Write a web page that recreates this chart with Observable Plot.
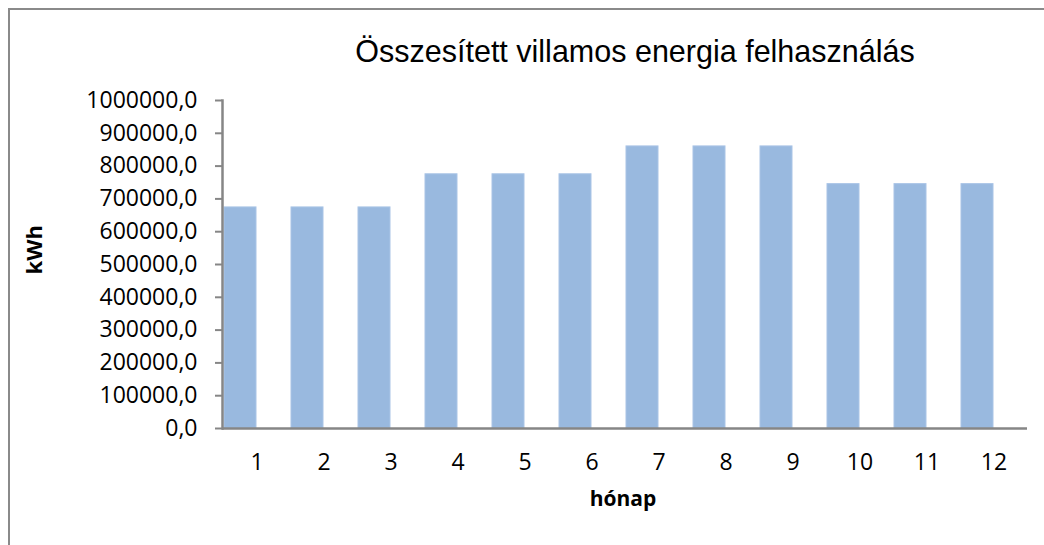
<!DOCTYPE html>
<html>
<head>
<meta charset="utf-8">
<script src="https://cdn.jsdelivr.net/npm/d3@7"></script>
<script src="https://cdn.jsdelivr.net/npm/@observablehq/plot@0.6"></script>
<style>
  html, body { margin: 0; padding: 0; background: #fff; }
  #wrap { position: relative; width: 1044px; height: 545px; overflow: hidden; }
  #border { position: absolute; left: 8px; top: 8px; width: 1100px; height: 600px;
            border-left: 2px solid #8a8a8a; border-top: 2px solid #8a8a8a; box-sizing: border-box; }
  #chart { position: absolute; left: 0; top: 0; }
</style>
</head>
<body>
<div id="wrap"><div id="border"></div><div id="chart"></div></div>
<script>
const months = [1, 2, 3, 4, 5, 6, 7, 8, 9, 10, 11, 12];
const consumption = [674000, 674000, 674000, 775000, 775000, 775000, 860000, 860000, 860000, 745000, 745000, 745000];
const yTicks = [0, 100000, 200000, 300000, 400000, 500000, 600000, 700000, 800000, 900000, 1000000];
const title = "Összesített villamos energia felhasználás";
const yLabel = "kWh";
const xLabel = "hónap";

const data = months.map((m, i) => ({month: m, value: consumption[i]}));
const axisColor = "#868686";

const chart = Plot.plot({
  width: 1044,
  height: 545,
  marginLeft: 222,
  marginRight: 17,
  marginTop: 100,
  marginBottom: 117,
  style: {fontFamily: "'Open Sans', sans-serif", background: "transparent", overflow: "visible"},
  x: {type: "band", domain: months, padding: 0},
  y: {domain: [0, 1000000]},
  marks: [
    Plot.barY(data, {x: "month", y: "value", fill: "#99B9DF", stroke: "#A9C4E6", strokeWidth: 1, insetLeft: 1, insetRight: 34}),
    Plot.axisY({ticks: yTicks, tickFormat: d => d.toFixed(1).replace(".", ","), tickSize: 7, tickPadding: 18,
                stroke: axisColor, strokeWidth: 2, strokeOpacity: 1, fontSize: 23, fill: "#000", label: null}),
    Plot.axisX({tickSize: 0, tickPadding: 25, fontSize: 23, fill: "#000", label: null}),
    Plot.ruleY([0], {stroke: axisColor, strokeWidth: 2.5}),
    Plot.frame({anchor: "left", stroke: axisColor, strokeWidth: 2.5}),
    Plot.text([title], {frameAnchor: "top", dx: 10, dy: -60, fontSize: 30.5, fill: "#000",
                        fontFamily: "'Liberation Sans', Arial, sans-serif"}),
    Plot.text([yLabel], {frameAnchor: "left", dx: -188, dy: 10, rotate: -90, fontSize: 22, fontWeight: "bold", fill: "#000"}),
    Plot.text([xLabel], {frameAnchor: "bottom", dx: -2, dy: 77, fontSize: 21, fontWeight: "bold", fill: "#000"})
  ]
});
document.getElementById("chart").appendChild(chart);
</script>
</body>
</html>
